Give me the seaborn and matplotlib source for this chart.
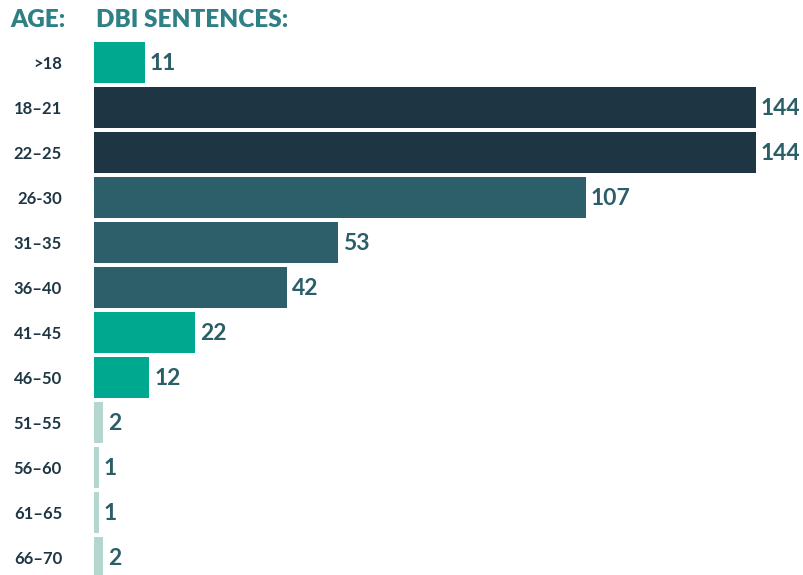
import matplotlib
matplotlib.use("Agg")
import matplotlib.pyplot as plt
import seaborn as sns
import pandas as pd

# data
ages = [">18", "18\u201321", "22\u201325", "26-30", "31\u201335", "36\u201340",
        "41\u201345", "46\u201350", "51\u201355", "56\u201360", "61\u201365", "66\u201370"]
sentences = [11, 144, 144, 107, 53, 42, 22, 12, 2, 1, 1, 2]

TEAL = "#00A88F"
NAVY = "#1E3643"
MID = "#2C5F69"
LIGHT = "#B3D6CE"
bar_colors = [TEAL, NAVY, NAVY, MID, MID, MID, TEAL, TEAL, LIGHT, LIGHT, LIGHT, LIGHT]

df = pd.DataFrame({"age": ages, "n": sentences})

sns.set_theme(style="white")
plt.rcParams["font.family"] = ["Lato", "DejaVu Sans"]

W, H = 804, 575
fig = plt.figure(figsize=(W / 100, H / 100), dpi=100)
# axes spans from x=94px to the right edge, full height
ax = fig.add_axes([94 / W, 0, (W - 94) / W, 1])

sns.barplot(data=df, x="n", y="age", hue="age", palette=bar_colors,
            legend=False, width=41 / 45, ax=ax, saturation=1, linewidth=0)

px_per_unit = 662 / 144
ax.set_xlim(0, (W - 94) / px_per_unit)
top = -62.5 / 45
bottom = (H - 62.5) / 45
ax.set_ylim(bottom, top)

for i, v in enumerate(sentences):
    ax.text(v + 5 / px_per_unit, i + 0.02, str(v), va="center", ha="left",
            fontsize=16.5, fontweight="bold", color="#2B5F68")

ax.set_xlabel("")
ax.set_ylabel("")
ax.set_xticks([])
ax.tick_params(axis="y", length=0, pad=23, labelsize=12, labelcolor="#1E3643")
for lbl in ax.get_yticklabels():
    lbl.set_fontweight("bold")
sns.despine(ax=ax, left=True, bottom=True)

fig.text(10 / W, 1 - 20 / H, "AGE:", fontsize=17.5, fontweight="heavy",
         color="#2E8086", va="center", ha="left")
fig.text(96 / W, 1 - 20 / H, "DBI SENTENCES:", fontsize=17.5, fontweight="heavy",
         color="#2E8086", va="center", ha="left")

fig.savefig("out.png", dpi=100)
plt.close(fig)
